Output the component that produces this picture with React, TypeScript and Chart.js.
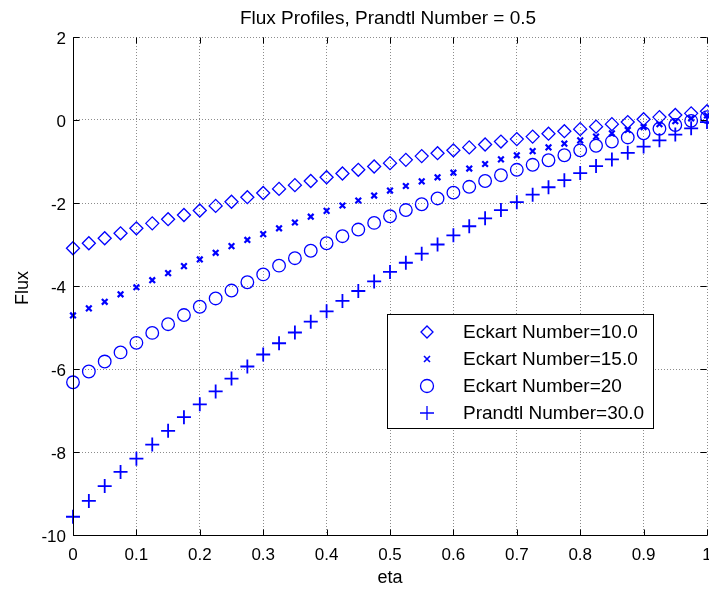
import React, { useEffect, useRef } from "react";
import { Chart, registerables } from "chart.js";

Chart.register(...registerables);

const TITLE = "Flux Profiles, Prandtl Number = 0.5";
const X_LABEL = "eta";
const Y_LABEL = "Flux";

const ETA = [
  0, 0.025, 0.05, 0.075, 0.1, 0.125, 0.15, 0.175, 0.2, 0.225, 0.25, 0.275, 0.3, 0.325,
  0.35, 0.375, 0.4, 0.425, 0.45, 0.475, 0.5, 0.525, 0.55, 0.575, 0.6, 0.625, 0.65,
  0.675, 0.7, 0.725, 0.75, 0.775, 0.8, 0.825, 0.85, 0.875, 0.9, 0.925, 0.95, 0.975, 1,
];

const ECKART_10 = [
  -3.09, -2.97, -2.85, -2.73, -2.61, -2.49, -2.39, -2.29, -2.18, -2.07, -1.97, -1.86,
  -1.76, -1.66, -1.57, -1.47, -1.38, -1.29, -1.2, -1.12, -1.04, -0.96, -0.87, -0.8,
  -0.73, -0.66, -0.59, -0.52, -0.46, -0.4, -0.33, -0.27, -0.22, -0.16, -0.1, -0.05,
  0.02, 0.07, 0.12, 0.16, 0.21,
];

const ECKART_15 = [
  -4.71, -4.54, -4.38, -4.2, -4.03, -3.86, -3.69, -3.52, -3.36, -3.2, -3.04, -2.89,
  -2.75, -2.61, -2.47, -2.33, -2.19, -2.06, -1.94, -1.82, -1.7, -1.59, -1.48, -1.38,
  -1.27, -1.17, -1.06, -0.95, -0.85, -0.75, -0.66, -0.57, -0.49, -0.4, -0.32, -0.24,
  -0.17, -0.1, -0.03, 0.04, 0.11,
];

const ECKART_20 = [
  -6.32, -6.06, -5.82, -5.6, -5.37, -5.13, -4.92, -4.7, -4.5, -4.3, -4.11, -3.91,
  -3.72, -3.51, -3.33, -3.15, -2.97, -2.8, -2.64, -2.48, -2.32, -2.17, -2.03, -1.89,
  -1.75, -1.61, -1.47, -1.33, -1.2, -1.08, -0.97, -0.85, -0.73, -0.62, -0.52, -0.42,
  -0.32, -0.21, -0.12, -0.02, 0.07,
];

const PRANDTL_30 = [
  -9.56, -9.18, -8.82, -8.48, -8.16, -7.82, -7.49, -7.16, -6.85, -6.54, -6.23, -5.94,
  -5.65, -5.38, -5.12, -4.86, -4.61, -4.36, -4.12, -3.89, -3.66, -3.44, -3.22, -3.0,
  -2.78, -2.56, -2.37, -2.17, -1.98, -1.8, -1.62, -1.45, -1.28, -1.11, -0.95, -0.79,
  -0.64, -0.49, -0.35, -0.2, -0.05,
];

const SERIES_LABELS = [
  "Eckart Number=10.0",
  "Eckart Number=15.0",
  "Eckart Number=20",
  "Prandtl Number=30.0",
];

const X_TICKS = [0, 0.1, 0.2, 0.3, 0.4, 0.5, 0.6, 0.7, 0.8, 0.9, 1];
const X_TICK_LABELS = ["0", "0.1", "0.2", "0.3", "0.4", "0.5", "0.6", "0.7", "0.8", "0.9", "1"];
const Y_TICKS = [-10, -8, -6, -4, -2, 0, 2];
const Y_TICK_LABELS = ["-10", "-8", "-6", "-4", "-2", "0", "2"];

const BLUE = "#0000ff";
const FONT = '"Liberation Sans", Arial, Helvetica, sans-serif';

type Marker = "diamond" | "x" | "circle" | "plus";

function drawMarker(ctx: CanvasRenderingContext2D, kind: Marker, x: number, y: number, r: number, lw: number) {
  ctx.save();
  ctx.strokeStyle = BLUE;
  ctx.lineWidth = lw;
  ctx.beginPath();
  if (kind === "diamond") {
    ctx.moveTo(x - r, y);
    ctx.lineTo(x, y - r);
    ctx.lineTo(x + r, y);
    ctx.lineTo(x, y + r);
    ctx.closePath();
  } else if (kind === "circle") {
    ctx.arc(x, y, r, 0, Math.PI * 2);
  } else if (kind === "x") {
    ctx.moveTo(x - r, y - r);
    ctx.lineTo(x + r, y + r);
    ctx.moveTo(x + r, y - r);
    ctx.lineTo(x - r, y + r);
  } else {
    ctx.moveTo(x - r, y);
    ctx.lineTo(x + r, y);
    ctx.moveTo(x, y - r);
    ctx.lineTo(x, y + r);
  }
  ctx.stroke();
  ctx.restore();
}

const overlayPlugin = {
  id: "matlabOverlay",
  afterDraw(chart: any) {
    const ctx: CanvasRenderingContext2D = chart.ctx;
    const a = chart.chartArea;
    const xs = chart.scales.x;
    const ys = chart.scales.y;
    const L = Math.round(a.left) + 0.5;
    const B = Math.round(a.bottom) + 0.5;
    const T = Math.round(a.top) + 0.5;
    const R = Math.round(a.right) - 0.5;
    ctx.save();

    // axis lines
    ctx.strokeStyle = "#000";
    ctx.lineWidth = 1;
    ctx.beginPath();
    ctx.moveTo(L, T);
    ctx.lineTo(L, B);
    ctx.lineTo(R + 1, B);
    ctx.stroke();

    // inward tick marks
    const tl = 6;
    ctx.beginPath();
    X_TICKS.forEach((v) => {
      const px = Math.round(xs.getPixelForValue(v)) + 0.5;
      ctx.moveTo(px, B);
      ctx.lineTo(px, B - tl);
      ctx.moveTo(px, T);
      ctx.lineTo(px, T + tl);
    });
    Y_TICKS.forEach((v) => {
      const py = Math.round(ys.getPixelForValue(v)) + 0.5;
      ctx.moveTo(L, py);
      ctx.lineTo(L + tl, py);
      ctx.moveTo(R, py);
      ctx.lineTo(R - tl, py);
    });
    ctx.stroke();

    // tick labels
    ctx.fillStyle = "#000";
    ctx.font = `17px ${FONT}`;
    ctx.textAlign = "center";
    ctx.textBaseline = "alphabetic";
    X_TICKS.forEach((v, i) => {
      ctx.fillText(X_TICK_LABELS[i], xs.getPixelForValue(v), a.bottom + 25);
    });
    ctx.textAlign = "right";
    ctx.textBaseline = "middle";
    Y_TICKS.forEach((v, i) => {
      ctx.fillText(Y_TICK_LABELS[i], a.left - 7, ys.getPixelForValue(v) + 2);
    });

    // title
    ctx.font = `19px ${FONT}`;
    ctx.textAlign = "center";
    ctx.textBaseline = "alphabetic";
    ctx.fillText(TITLE, (a.left + a.right) / 2 - 2, 24);

    // axis labels
    ctx.font = `18px ${FONT}`;
    ctx.fillText(X_LABEL, (a.left + a.right) / 2, 583);
    ctx.save();
    ctx.translate(28, (a.top + a.bottom) / 2 + 2);
    ctx.rotate(-Math.PI / 2);
    ctx.textAlign = "center";
    ctx.textBaseline = "alphabetic";
    ctx.fillText(Y_LABEL, 0, 0);
    ctx.restore();

    // legend
    const lx = 387.5, ly = 314.5, lw = 266, lh = 114;
    ctx.fillStyle = "#fff";
    ctx.fillRect(lx, ly, lw, lh);
    ctx.strokeStyle = "#000";
    ctx.lineWidth = 1;
    ctx.strokeRect(lx, ly, lw, lh);
    const markers: Marker[] = ["diamond", "x", "circle", "plus"];
    const sizes = [6, 3, 6.5, 7];
    const widths = [1.3, 1.6, 1.3, 1.3];
    ctx.font = `19px ${FONT}`;
    ctx.textAlign = "left";
    ctx.textBaseline = "middle";
    ctx.fillStyle = "#000";
    SERIES_LABELS.forEach((lab, i) => {
      const cy = 332 + i * 27;
      drawMarker(ctx, markers[i], 427, cy, sizes[i], widths[i]);
      ctx.fillText(lab, 463, cy + 1);
    });

    ctx.restore();
  },
};

export default function App() {
  const ref = useRef<HTMLCanvasElement | null>(null);

  useEffect(() => {
    document.body.style.margin = "0";
    const canvas = ref.current;
    if (!canvas) return;
    const mk = (vals: number[]) => ETA.map((x, i) => ({ x, y: vals[i] }));
    const base = {
      showLine: false,
      borderColor: BLUE,
      backgroundColor: "rgba(0,0,0,0)",
      pointBackgroundColor: "rgba(0,0,0,0)",
      clip: false as any,
    };
    const chart = new Chart(canvas, {
      type: "scatter",
      data: {
        datasets: [
          { ...base, label: SERIES_LABELS[0], data: mk(ECKART_10), pointStyle: "rectRot", pointRadius: 6.5, pointBorderWidth: 1.3 },
          { ...base, label: SERIES_LABELS[1], data: mk(ECKART_15), pointStyle: "crossRot", pointRadius: 4, pointBorderWidth: 2.2 },
          { ...base, label: SERIES_LABELS[2], data: mk(ECKART_20), pointStyle: "circle", pointRadius: 6.3, pointBorderWidth: 1.3 },
          { ...base, label: SERIES_LABELS[3], data: mk(PRANDTL_30), pointStyle: "cross", pointRadius: 7, pointBorderWidth: 1.8 },
        ],
      },
      options: {
        responsive: false,
        animation: false,
        devicePixelRatio: 1,
        events: [],
        layout: { autoPadding: false, padding: { top: 37, right: 2, left: 0, bottom: 0 } },
        plugins: {
          legend: { display: false },
          title: { display: false },
          tooltip: { enabled: false },
        },
        scales: {
          x: {
            type: "linear",
            min: 0,
            max: 1,
            ticks: { display: false, stepSize: 0.1 },
            grid: { color: "#8c8c8c", lineWidth: 1, drawTicks: false },
            border: { display: false, dash: [1, 2] },
            afterFit: (s: any) => {
              s.height = 54;
            },
          },
          y: {
            type: "linear",
            min: -10,
            max: 2,
            ticks: { display: false, stepSize: 2 },
            grid: { color: "#8c8c8c", lineWidth: 1, drawTicks: false },
            border: { display: false, dash: [1, 2] },
            afterFit: (s: any) => {
              s.width = 73;
            },
          },
        },
      } as any,
      plugins: [overlayPlugin],
    });
    return () => chart.destroy();
  }, []);

  return (
    <div style={{ position: "absolute", left: 0, top: 0, width: 709, height: 589, background: "#fff" }}>
      <canvas ref={ref} width={709} height={589} style={{ display: "block", width: 709, height: 589 }} />
    </div>
  );
}
